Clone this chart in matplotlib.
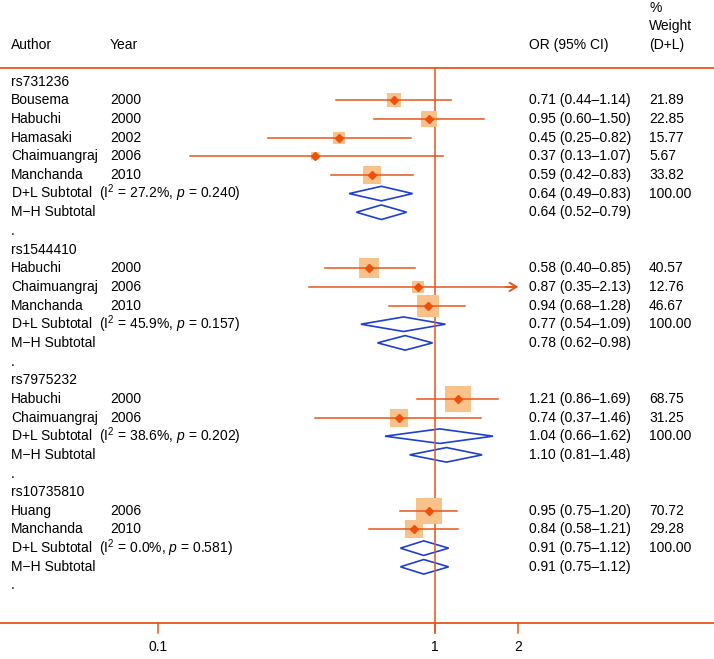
import numpy as np
import matplotlib
matplotlib.use("Agg")
import matplotlib.pyplot as plt
from matplotlib.patches import Polygon

plt.rcParams["font.family"] = ["Liberation Sans", "DejaVu Sans"]
plt.rcParams["mathtext.fontset"] = "custom"
plt.rcParams["mathtext.rm"] = "Liberation Sans"
plt.rcParams["mathtext.it"] = "Liberation Sans:italic"

# ── data ──
snps = ["rs731236", "rs1544410", "rs7975232", "rs10735810"]
authors = [
    ["Bousema", "Habuchi", "Hamasaki", "Chaimuangraj", "Manchanda"],
    ["Habuchi", "Chaimuangraj", "Manchanda"],
    ["Habuchi", "Chaimuangraj"],
    ["Huang", "Manchanda"],
]
years = [
    [2000, 2000, 2002, 2006, 2010],
    [2000, 2006, 2010],
    [2000, 2006],
    [2006, 2010],
]
odds = [
    [0.71, 0.95, 0.45, 0.37, 0.59],
    [0.58, 0.87, 0.94],
    [1.21, 0.74],
    [0.95, 0.84],
]
lower = [
    [0.44, 0.60, 0.25, 0.13, 0.42],
    [0.40, 0.35, 0.68],
    [0.86, 0.37],
    [0.75, 0.58],
]
upper = [
    [1.14, 1.50, 0.82, 1.07, 0.83],
    [0.85, 2.13, 1.28],
    [1.69, 1.46],
    [1.20, 1.21],
]
weights = [
    [21.89, 22.85, 15.77, 5.67, 33.82],
    [40.57, 12.76, 46.67],
    [68.75, 31.25],
    [70.72, 29.28],
]
dl_or = [0.64, 0.77, 1.04, 0.91]
dl_lo = [0.49, 0.54, 0.66, 0.75]
dl_hi = [0.83, 1.09, 1.62, 1.12]
i2 = ["27.2", "45.9", "38.6", "0.0"]
pval = ["0.240", "0.157", "0.202", "0.581"]
mh_or = [0.64, 0.78, 1.10, 0.91]
mh_lo = [0.52, 0.62, 0.81, 0.75]
mh_hi = [0.79, 0.98, 1.48, 1.12]

xticks = [0.1, 1, 2]
xmax = 2.0

LINE = "#E5561C"
POINT = "#EE4F0A"
BOX = "#F9C28A"
BLUE = "#1E3FCF"
FS = 10

fig = plt.figure(figsize=(7.14, 6.59), dpi=100)
ax = fig.add_axes([0, 0, 1, 1])
ax.set_xscale("log")
ax.set_xlim(0.02687, 10.17)
ax.set_ylim(30.94, -4.373)
ax.axis("off")
tr = ax.get_yaxis_transform()  # x in axes, y in data

x_author, x_year, x_or, x_wt = 0.0155, 0.154, 0.741, 0.909

# header
ax.text(x_author, -1.96, "Author", transform=tr, fontsize=FS, va="center")
ax.text(x_year, -1.96, "Year", transform=tr, fontsize=FS, va="center")
ax.text(x_or, -1.96, "OR (95% CI)", transform=tr, fontsize=FS, va="center")
ax.text(x_wt, -1.96, "(D+L)", transform=tr, fontsize=FS, va="center")
ax.text(x_wt, -2.98, "Weight", transform=tr, fontsize=FS, va="center")
ax.text(x_wt, -3.94, "%", transform=tr, fontsize=FS, va="center")

y_top, y_axis = -0.73, 29.0
ax.plot([0, 1], [y_top, y_top], transform=tr, color=LINE, lw=1.3, clip_on=False)
ax.plot([0, 1], [y_axis, y_axis], transform=tr, color=LINE, lw=1.3, clip_on=False)
ax.plot([1, 1], [y_top, 29.55], color=LINE, lw=1.1)
for t in xticks:
    ax.plot([t, t], [y_axis, 29.55], color=LINE, lw=1.1)
    ax.text(t, 30.3, f"{t:g}", ha="center", va="center", fontsize=FS)


def diamond(y, est, lo, hi):
    h = 0.39
    pts = [(lo, y), (est, y - h), (hi, y), (est, y + h)]
    ax.add_patch(Polygon(pts, closed=True, fill=False, edgecolor=BLUE, lw=1.2))


row = 0
for g, snp in enumerate(snps):
    ax.text(x_author, row, snp, transform=tr, fontsize=FS, va="center")
    row += 1
    for a, yr, o, lo, hi, w in zip(authors[g], years[g], odds[g], lower[g], upper[g], weights[g]):
        ax.text(x_author, row, a, transform=tr, fontsize=FS, va="center")
        ax.text(x_year, row, str(yr), transform=tr, fontsize=FS, va="center")
        ax.text(x_or, row, f"{o:.2f} ({lo:.2f}\u2013{hi:.2f})", transform=tr, fontsize=FS, va="center")
        ax.text(x_wt, row, f"{w:.2f}", transform=tr, fontsize=FS, va="center")
        side_pt = np.sqrt(w) * 3.2 * 0.72
        ax.scatter([o], [row], s=side_pt ** 2, marker="s", color=BOX, lw=0, zorder=2)
        if hi > xmax:
            ax.plot([lo, xmax * 0.98], [row, row], color=LINE, lw=1.1, zorder=3)
            ax.annotate("", xy=(xmax, row), xytext=(xmax * 0.9, row),
                        arrowprops=dict(arrowstyle="->,head_length=0.5,head_width=0.3",
                                        color=LINE, lw=1.4, shrinkA=0, shrinkB=0),
                        zorder=3)
        else:
            ax.plot([lo, hi], [row, row], color=LINE, lw=1.1, zorder=3)
        ax.plot([o], [row], marker="D", ms=4.2, color=POINT, zorder=4)
        row += 1
    ax.text(x_author, row, f"D+L Subtotal  (I$^{{2}}$ = {i2[g]}%, $p$ = {pval[g]})",
            transform=tr, fontsize=FS, va="center")
    ax.text(x_or, row, f"{dl_or[g]:.2f} ({dl_lo[g]:.2f}\u2013{dl_hi[g]:.2f})",
            transform=tr, fontsize=FS, va="center")
    ax.text(x_wt, row, "100.00", transform=tr, fontsize=FS, va="center")
    diamond(row, dl_or[g], dl_lo[g], dl_hi[g])
    row += 1
    ax.text(x_author, row, "M\u2212H Subtotal", transform=tr, fontsize=FS, va="center")
    ax.text(x_or, row, f"{mh_or[g]:.2f} ({mh_lo[g]:.2f}\u2013{mh_hi[g]:.2f})",
            transform=tr, fontsize=FS, va="center")
    diamond(row, mh_or[g], mh_lo[g], mh_hi[g])
    row += 1
    ax.text(x_author, row, ".", transform=tr, fontsize=FS, va="center")
    row += 1

fig.savefig("out.png", dpi=100)
